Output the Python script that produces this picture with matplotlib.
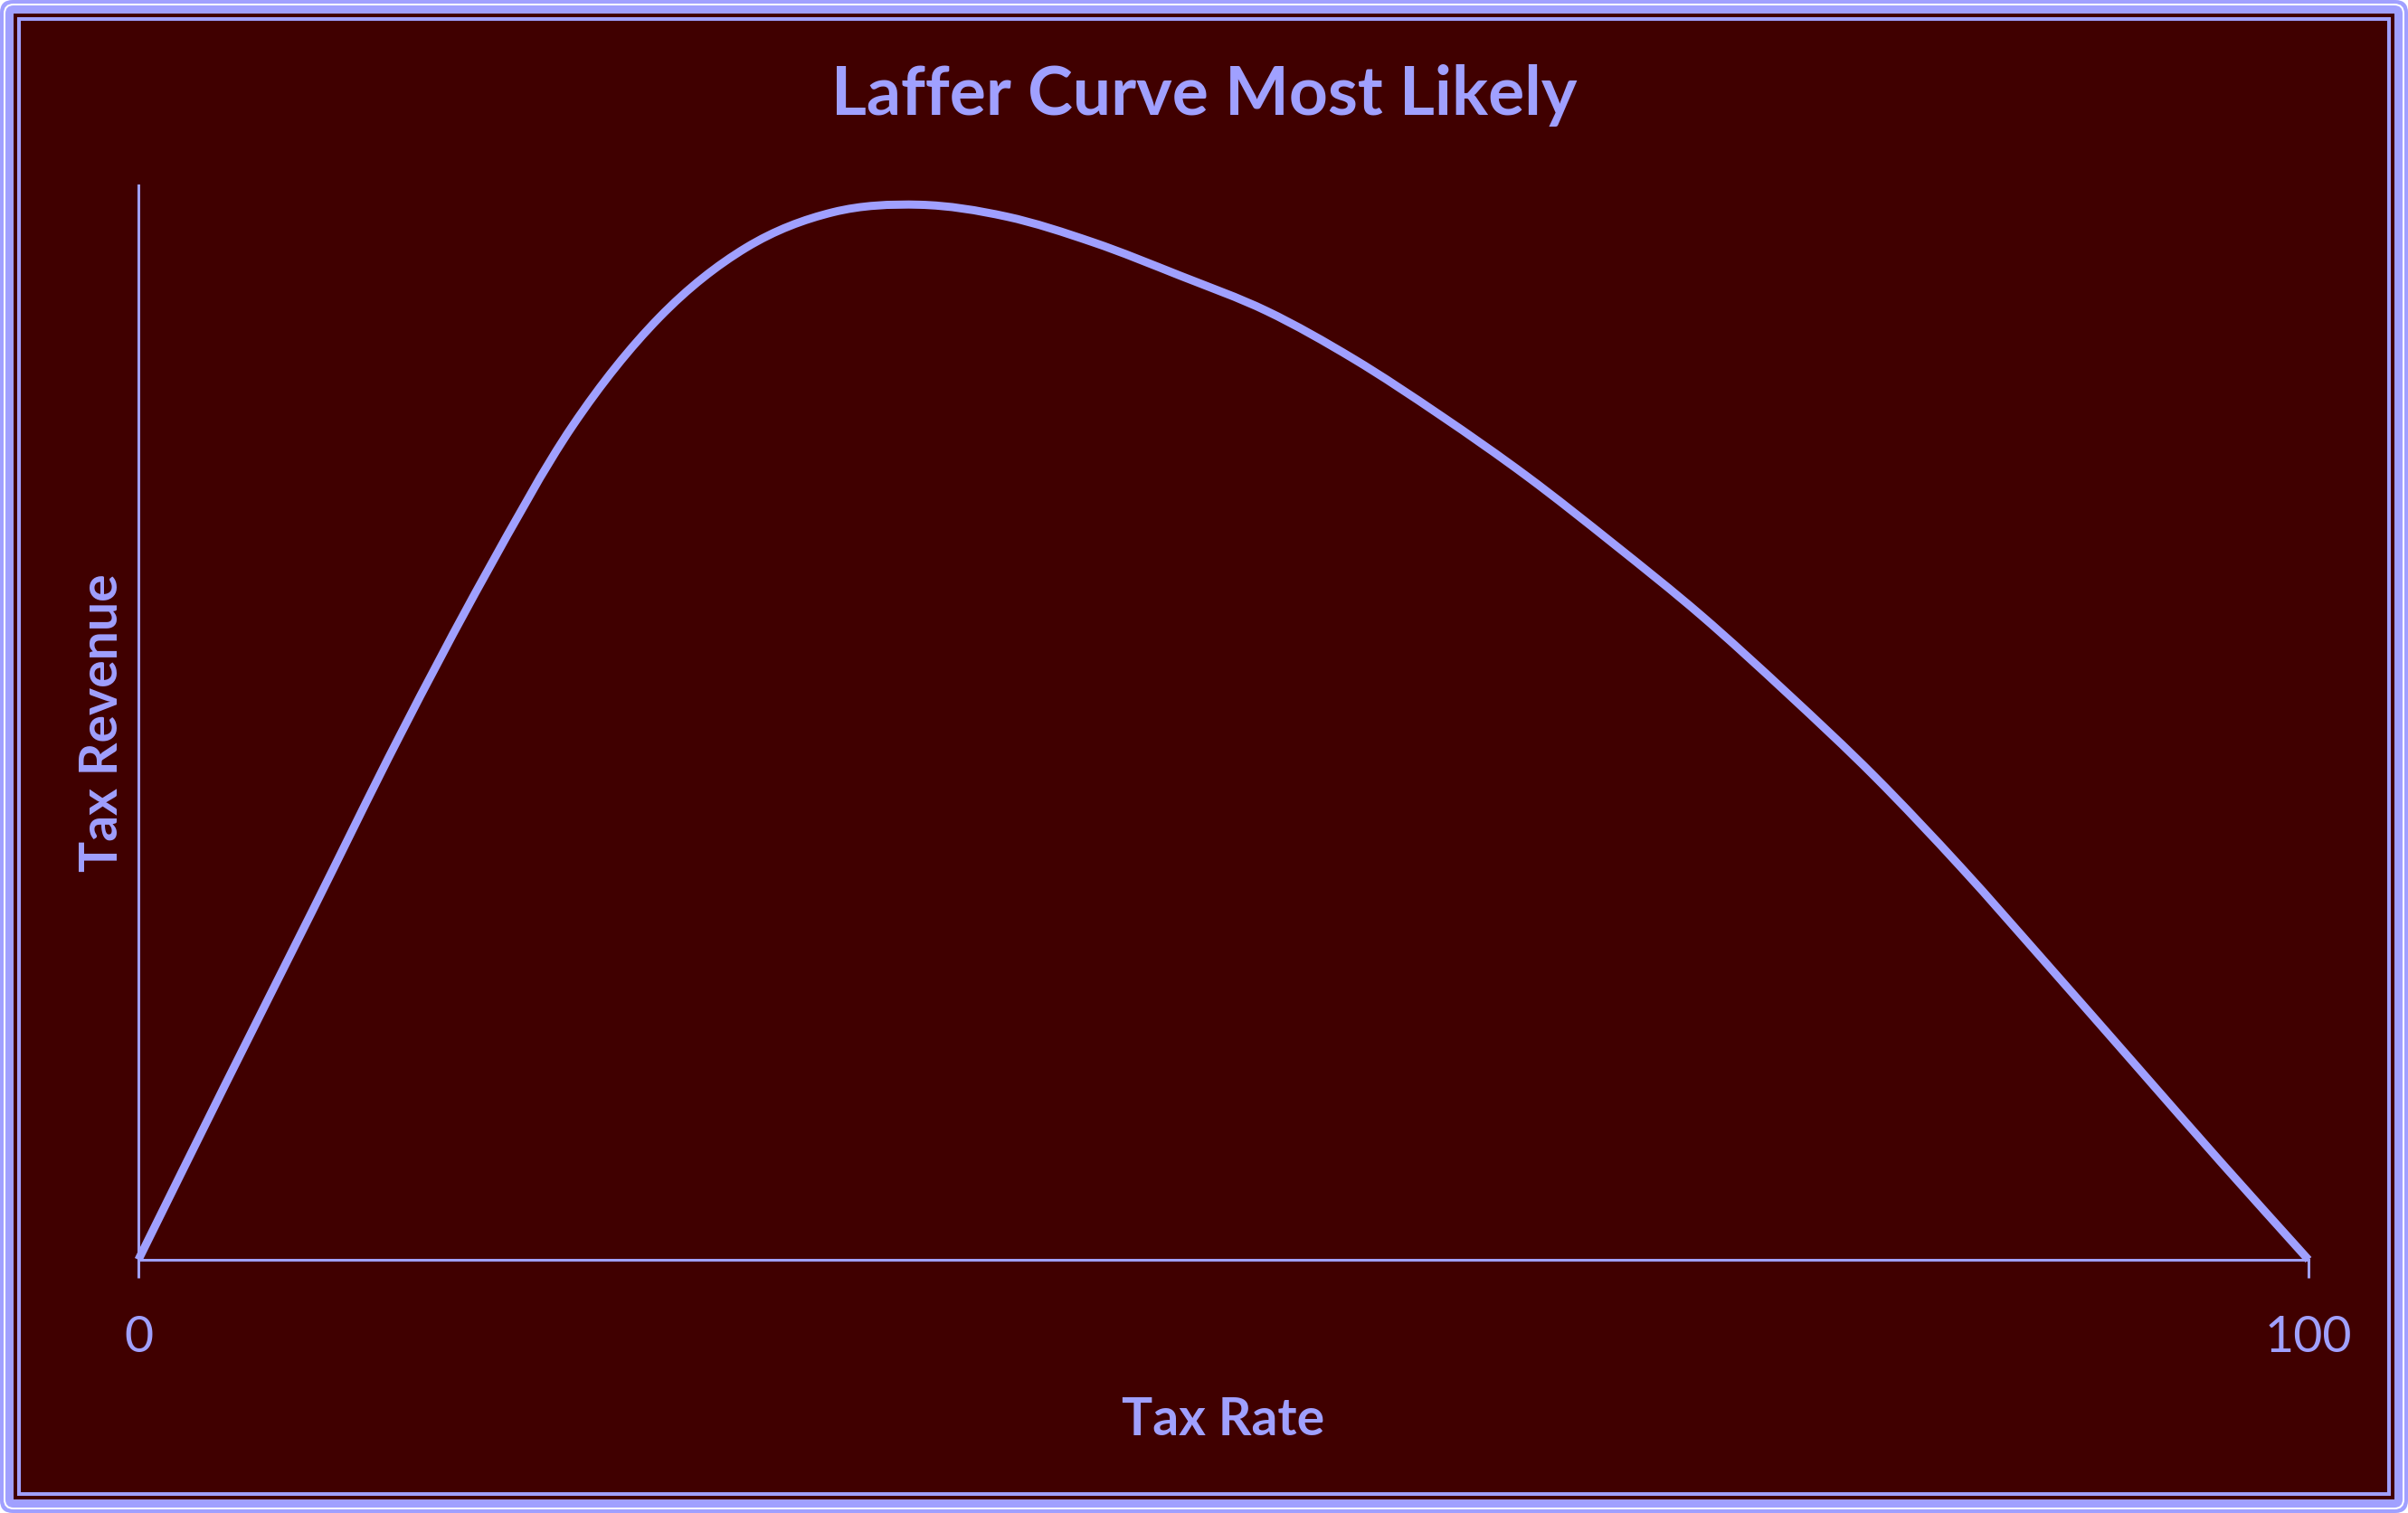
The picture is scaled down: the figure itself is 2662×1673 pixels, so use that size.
import matplotlib
matplotlib.use("Agg")
import matplotlib.pyplot as plt
from matplotlib.patches import FancyBboxPatch, Rectangle, PathPatch
from matplotlib.path import Path

# values (tax rate %, revenue in % of axis height)
tax_rate = [0, 4, 8, 12, 16, 20, 24, 28, 32, 36, 40, 44, 48, 52, 56, 60, 64, 68, 72,
            76, 80, 84, 88, 92, 96, 100]
revenue = [0, 16.3, 32.4, 48.6, 63.8, 77.6, 87.7, 94.2, 97.5, 98.2, 97.1, 94.7, 91.6,
           88.3, 83.85, 78.6, 72.9, 66.6, 60.0, 52.7, 45.0, 36.5, 27.4, 18.2, 9.0, 0]
tick_vals = [0, 100]
tick_text = ["0", "100"]

title = "Laffer Curve Most Likely"
x_title = "Tax Rate"
y_title = "Tax Revenue"

BG = "#400000"
FG = "#a0a0ff"
W, H = 2662, 1673
DPI = 100
PX = 72 / DPI  # points per pixel

plt.rcParams['font.family'] = ['Lato', 'DejaVu Sans']

fig = plt.figure(figsize=(W / DPI, H / DPI), dpi=DPI, facecolor="white")


def frame(inset, color, rounded=0):
    # rectangle in figure pixels, inset from the edge
    x0, y0 = inset / W, inset / H
    w, h = (W - 2 * inset) / W, (H - 2 * inset) / H
    if rounded:
        p = FancyBboxPatch((x0, y0), w, h, boxstyle="round,pad=0,rounding_size=%f" % (rounded / W),
                           transform=fig.transFigure, facecolor=color, edgecolor="none",
                           mutation_aspect=W / H)
    else:
        p = Rectangle((x0, y0), w, h, transform=fig.transFigure,
                      facecolor=color, edgecolor="none")
    p.set_zorder(-10)
    fig.patches.append(p)


def smooth_path(xs, ys):
    # smoothed line like the spreadsheet one: cubic bezier through every point
    n = len(xs)
    slopes = []
    for i in range(n):
        a, b = max(i - 1, 0), min(i + 1, n - 1)
        slopes.append((ys[b] - ys[a]) / (xs[b] - xs[a]))
    verts = [(xs[0], ys[0])]
    codes = [Path.MOVETO]
    for i in range(n - 1):
        h = xs[i + 1] - xs[i]
        verts += [(xs[i] + h / 3, ys[i] + slopes[i] * h / 3),
                  (xs[i + 1] - h / 3, ys[i + 1] - slopes[i + 1] * h / 3),
                  (xs[i + 1], ys[i + 1])]
        codes += [Path.CURVE4] * 3
    return Path(verts, codes)


# border: lavender / white / lavender / maroon / thin lavender / maroon
frame(0, FG, rounded=14)
frame(4, "white", rounded=11)
frame(6, FG, rounded=9)
frame(15, BG)
frame(19, FG)
frame(23, BG)

# axes placed where the reference has them
left, right, top, bottom = 153, 2552, 205, 1393
ax = fig.add_axes([left / W, (H - bottom) / H, (right - left) / W, (bottom - top) / H])
ax.set_zorder(5)
ax.set_facecolor("none")
curve = PathPatch(smooth_path(tax_rate, revenue), facecolor="none", edgecolor=FG,
                  lw=9 * PX, joinstyle="round", capstyle="butt", clip_on=False, zorder=3)
ax.add_patch(curve)
ax.set_xlim(0, 100)
ax.set_ylim(0, 100)

for s in ["top", "right"]:
    ax.spines[s].set_visible(False)
for s in ["left", "bottom"]:
    ax.spines[s].set_color(FG)
    ax.spines[s].set_linewidth(3 * PX)

ax.set_yticks([])
ax.set_xticks(tick_vals)
ax.set_xticklabels(tick_text)
ax.tick_params(axis="x", direction="out", length=20 * PX, width=3 * PX, color=FG,
               labelcolor=FG, labelsize=40, pad=41 * PX)

fig.text(0.5, (H - 127) / H, title, ha="center", va="baseline", color=FG,
         fontsize=54, fontweight="bold")
fig.text(1352 / W, (H - 1587) / H, x_title, ha="center", va="baseline", color=FG,
         fontsize=41, fontweight="bold")
fig.text(130 / W, (H - 799) / H, y_title, ha="center", va="baseline", color=FG,
         fontsize=41, fontweight="bold", rotation=90, rotation_mode="anchor")

fig.savefig("out.png", dpi=DPI, facecolor=fig.get_facecolor())
